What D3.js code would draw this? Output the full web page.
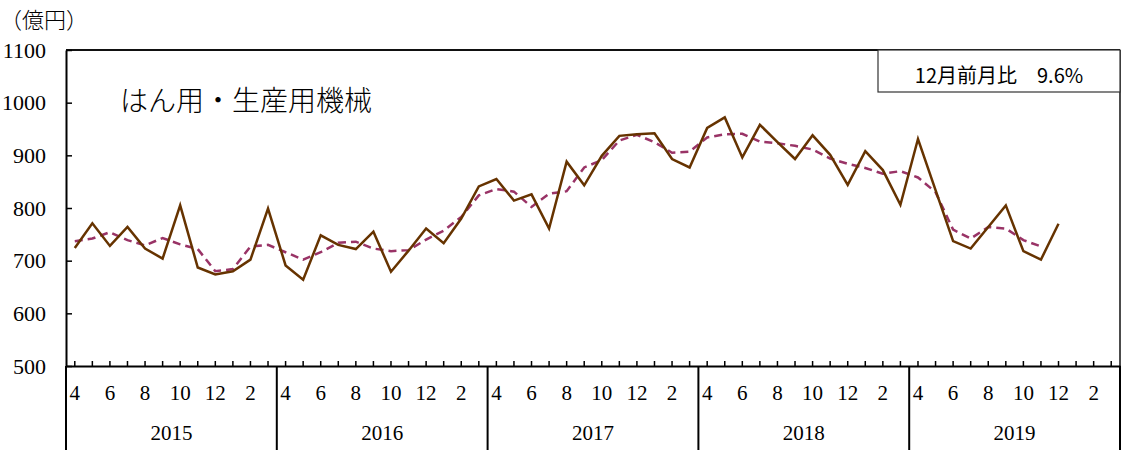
<!DOCTYPE html>
<html lang="ja">
  <head>
    <meta charset="utf-8" />
    <title>はん用・生産用機械</title>
    <script src="https://cdn.jsdelivr.net/npm/d3@7"></script>
    <style>
      body { margin: 0; background: #fff; }
    </style>
  </head>
  <body>
    <svg id="chart" width="1122" height="457" viewBox="0 0 1122 457"></svg>
    <script>
      // data: Apr 2015 - Mar 2020 (60 months)
      const years = ["2015", "2016", "2017", "2018", "2019"];
      const monthLabels = ["4", "6", "8", "10", "12", "2"];
      const yTicks = [500, 600, 700, 800, 900, 1000, 1100];

      // 原数値 (Apr 2015 - Dec 2019)
      const actual = [
        724, 771, 728, 764, 723, 704, 805, 687, 674, 680, 702, 799,
        691, 664, 748, 730, 722, 755, 679, 719, 761, 733, 780, 841,
        855, 814, 826, 761, 888, 843, 899, 937, 940, 942, 893, 877,
        952, 972, 896, 958, 925, 893, 938, 901, 844, 908, 872, 806,
        931, 834, 737, 723, 764, 805, 718, 702, 770
      ];
      // 傾向 (Apr 2015 - Nov 2019)
      const trend = [
        737, 742, 754, 739, 729, 743, 731, 722, 680, 684, 727, 730,
        716, 702, 716, 734, 736, 723, 718, 720, 740, 757, 783, 824,
        836, 831, 802, 827, 832, 877, 891, 928, 939, 925, 905, 907,
        934, 940, 941, 926, 923, 918, 911, 894, 884, 876, 865, 870,
        858, 830, 759, 742, 764, 761, 739, 727
      ];

      const svg = d3.select("#chart");
      const serif = "'Liberation Serif', 'DejaVu Serif', serif";
      const jp = "'Noto Sans CJK JP', sans-serif";

      const plotLeft = 66, plotRight = 1120, plotTop = 50, plotBottom = 366;
      const months = d3.range(years.length * 12);

      const x = d3.scaleBand().domain(months).range([plotLeft, plotRight]);
      const xc = (i) => x(i) + x.bandwidth() / 2;
      const xYear = d3.scaleBand().domain(years).range([plotLeft, plotRight]);
      const y = d3.scaleLinear().domain([500, 1100]).range([plotBottom, plotTop]);

      // frame
      svg.append("line").attr("x1", plotLeft).attr("x2", plotRight).attr("y1", plotTop).attr("y2", plotTop)
        .attr("stroke", "#111").attr("stroke-width", 2);
      svg.append("line").attr("x1", plotRight).attr("x2", plotRight).attr("y1", plotTop).attr("y2", plotBottom)
        .attr("stroke", "#111").attr("stroke-width", 1.5);

      // y axis
      const yAxis = svg.append("g")
        .attr("transform", `translate(${plotLeft},0)`)
        .call(d3.axisLeft(y).tickValues(yTicks).tickFormat(d3.format("d"))
          .tickSizeInner(-6).tickSizeOuter(0).tickPadding(20));
      yAxis.select(".domain").attr("stroke", "#000").attr("stroke-width", 2);
      yAxis.selectAll(".tick line").attr("stroke", "#000").attr("stroke-width", 1.5);
      yAxis.selectAll("text")
        .style("font-family", serif)
        .style("font-size", "22px")
        .attr("fill", "#000");

      // x axis
      const xAxis = svg.append("g")
        .attr("transform", `translate(0,${plotBottom})`)
        .call(d3.axisBottom(x).tickSizeInner(-5).tickSizeOuter(0).tickFormat(""));
      xAxis.select(".domain").attr("stroke", "#000").attr("stroke-width", 2);
      xAxis.selectAll(".tick line").attr("stroke", "#000").attr("stroke-width", 1.5);

      // month labels
      svg.append("g").selectAll("text")
        .data(months.filter((i) => i % 2 === 0))
        .join("text")
        .attr("x", (i) => xc(i))
        .attr("y", 400)
        .attr("text-anchor", "middle")
        .style("font-family", serif)
        .style("font-size", "21px")
        .text((i) => monthLabels[(i % 12) / 2]);

      // year separators and labels
      svg.append("g").selectAll("line")
        .data(years.concat(["end"]))
        .join("line")
        .attr("x1", (d, i) => plotLeft + i * xYear.bandwidth())
        .attr("x2", (d, i) => plotLeft + i * xYear.bandwidth())
        .attr("y1", plotBottom)
        .attr("y2", 450)
        .attr("stroke", "#000")
        .attr("stroke-width", 2);

      svg.append("g").selectAll("text")
        .data(years)
        .join("text")
        .attr("x", (d) => xYear(d) + xYear.bandwidth() / 2)
        .attr("y", 440)
        .attr("text-anchor", "middle")
        .style("font-family", serif)
        .style("font-size", "21px")
        .text((d) => d);

      // lines
      const line = d3.line().x((d, i) => xc(i)).y((d) => y(d));

      svg.append("path")
        .datum(trend)
        .attr("d", line)
        .attr("fill", "none")
        .attr("stroke", "#993366")
        .attr("stroke-width", 2.5)
        .attr("stroke-dasharray", "8,5");

      svg.append("path")
        .datum(actual)
        .attr("d", line)
        .attr("fill", "none")
        .attr("stroke", "#663300")
        .attr("stroke-width", 2.5)
        .attr("stroke-linejoin", "miter");

      // unit
      svg.append("text")
        .attr("x", 0)
        .attr("y", 28)
        .attr("font-family", jp)
        .attr("font-weight", 300)
        .attr("font-size", 22)
        .text("（億円）");

      // title
      svg.append("text")
        .attr("x", 120)
        .attr("y", 111)
        .attr("font-family", jp)
        .attr("font-weight", 300)
        .attr("font-size", 28)
        .text("はん用・生産用機械");

      // box
      svg.append("rect")
        .attr("x", 878)
        .attr("y", plotTop)
        .attr("width", plotRight - 878)
        .attr("height", 42)
        .attr("fill", "#fff")
        .attr("stroke", "#333")
        .attr("stroke-width", 1.2);
      svg.append("text")
        .attr("x", 999)
        .attr("y", 83)
        .attr("text-anchor", "middle")
        .attr("font-family", jp)
        .attr("font-size", 20)
        .attr("xml:space", "preserve")
        .text("12月前月比　9.6%");
    </script>
  </body>
</html>
